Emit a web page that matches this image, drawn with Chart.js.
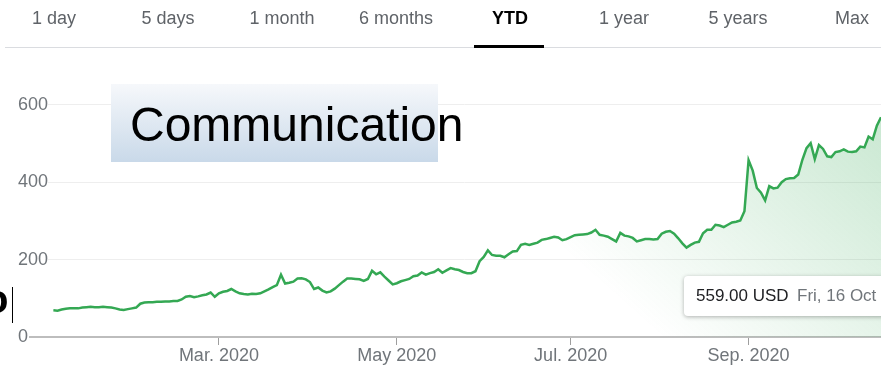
<!DOCTYPE html>
<html>
<head>
<meta charset="utf-8">
<script src="https://cdn.jsdelivr.net/npm/chart.js@4.4.1/dist/chart.umd.min.js"></script>
<style>
  body { margin: 0; background: #fff; font-family: "Liberation Sans", Arial, sans-serif; }
  #wrap { position: relative; width: 881px; height: 366px; overflow: hidden; }
  #chart-box { position: absolute; left: 0; top: 0; width: 881px; height: 366px; }
  .tab { position: absolute; top: 8px; width: 114px; text-align: center; font-size: 18px; color: #5f6368; }
  .tab.active { color: #000; font-weight: bold; }
  #tab-line { position: absolute; left: 5px; right: 0; top: 47px; height: 1px; background: #dadce0; }
  #tab-bar { position: absolute; left: 474px; top: 45px; width: 70px; height: 3px; background: #000; }
  #label-box { position: absolute; left: 111px; top: 84px; width: 327px; height: 78px;
    background: linear-gradient(to bottom, #f6f8fb, #c9d9e9); }
  #label-text { position: absolute; left: 130px; top: 101px; font-size: 48px; line-height: 48px; color: #000; white-space: nowrap; }
  #tip { position: absolute; left: 684px; top: 276px; width: 220px; height: 40px; background: #fff;
    border-radius: 4px; box-shadow: 0 1px 4px rgba(0,0,0,0.3); font-size: 17px; line-height: 40px; white-space: nowrap; }
  #tip .val { position: absolute; left: 12px; color: #202124; }
  #tip .date { position: absolute; left: 113px; color: #70757a; }
  #frag { position: absolute; left: -16px; top: 279px; font-size: 40px; line-height: 40px; font-weight: bold; color: #000; }
  #cursor { position: absolute; left: 12px; top: 287px; width: 1px; height: 36px; background: #000; }
</style>
</head>
<body>
<div id="wrap">
  <div id="chart-box"><canvas id="priceChart"></canvas></div>
  <div id="tabs"></div>
  <div id="tab-line"></div>
  <div id="tab-bar"></div>
  <div id="label-box"></div>
  <div id="label-text">Communication</div>
  <div id="tip"><span class="val">559.00 USD</span><span class="date">Fri, 16 Oct</span></div>
  <div id="frag">o</div>
  <div id="cursor"></div>
</div>
<script>
const tabLabels = ["1 day", "5 days", "1 month", "6 months", "YTD", "1 year", "5 years", "Max"];
const activeTab = "YTD";

// daily closes, 2 Jan - 16 Oct 2020 (trading days)
const closes = [
  69, 68, 71, 73, 74, 74, 74, 76, 77, 78, 77, 77, 78, 77, 76, 74, 71, 70, 72, 74, 76,
  86, 89, 90, 90, 91, 91, 92, 92, 93, 93, 97, 104, 106, 103, 105, 108, 110, 115, 104,
  113, 117, 119, 124, 118, 113, 111, 110, 112, 111, 113, 118, 123, 129, 134, 161, 138, 140, 143, 151, 152, 149,
  142, 124, 128, 120, 115, 118, 125, 134, 143, 151, 151, 150, 149, 145, 150, 171, 162, 167, 156, 146, 136,
  139, 144, 147, 150, 157, 159, 167, 161, 165, 168, 175, 166, 172, 178, 175, 173, 168, 165, 165, 170,
  196, 207, 224, 212, 210, 210, 206, 214, 221, 222, 238, 241, 238, 241, 244, 251, 253, 256, 259, 257, 250, 253,
  258, 263, 264, 265, 266, 270, 277, 264, 262, 259, 253, 247, 269, 262, 260, 256, 247, 250, 253, 253, 252, 253,
  267, 272, 274, 267, 255, 242, 231, 238, 244, 246, 268, 277, 277, 290, 288, 284, 290, 296, 298, 301, 325,
  457, 430, 385, 373, 353, 390, 384, 386, 400, 408, 410, 411, 420, 458, 488, 501, 460, 496, 486, 467, 465,
  478, 480, 485, 479, 478, 480, 492, 490, 518, 511, 546, 568
];

const monthTickIdx = [40, 83, 125, 168];
const monthTickLabels = ["Mar. 2020", "May 2020", "Jul. 2020", "Sep. 2020"];
const yTicks = [0, 200, 400, 600];

const tabsEl = document.getElementById("tabs");
tabLabels.forEach((t, i) => {
  const d = document.createElement("div");
  d.className = "tab" + (t === activeTab ? " active" : "");
  d.style.left = (i * 114 - 3) + "px";
  d.textContent = t;
  tabsEl.appendChild(d);
});

const baselinePlugin = {
  id: "baseline",
  beforeDatasetsDraw(chart) {
    const c = chart.ctx;
    const y = chart.scales.y.getPixelForValue(0);
    c.save();
    c.strokeStyle = "#bdbdbd";
    c.lineWidth = 2;
    c.beginPath();
    c.moveTo(29, y);
    c.lineTo(chart.width, y);
    c.stroke();
    c.restore();
  }
};

const ctx = document.getElementById("priceChart").getContext("2d");

new Chart(ctx, {
  type: "line",
  data: {
    datasets: [{
      data: closes.map((v, i) => ({ x: i, y: v })),
      borderColor: "#34a853",
      borderWidth: 2.5,
      pointRadius: 0,
      tension: 0,
      fill: "origin",
      backgroundColor: (c) => {
        const a = c.chart.chartArea;
        if (!a) return "rgba(0,0,0,0)";
        const g = c.chart.ctx.createLinearGradient(a.right, a.top + 20, a.right - 220, a.bottom);
        g.addColorStop(0, "rgba(52,168,83,0.28)");
        g.addColorStop(1, "rgba(52,168,83,0)");
        return g;
      },
    }],
  },
  options: {
    animation: false,
    responsive: true,
    maintainAspectRatio: false,
    layout: { padding: { top: 70, left: 18, right: 0, bottom: 0 } },
    plugins: { legend: { display: false }, tooltip: { enabled: false } },
    scales: {
      x: {
        type: "linear",
        min: -1.3,
        max: 200,
        border: { display: false },
        grid: { drawOnChartArea: false, drawTicks: true, tickLength: 8, color: "#9e9e9e" },
        afterBuildTicks: (s) => { s.ticks = monthTickIdx.map((v) => ({ value: v })); },
        afterFit: (s) => { s.height = 29; },
        ticks: {
          padding: 0,
          maxRotation: 0,
          autoSkip: false,
          color: "#70757a",
          font: { family: "'Liberation Sans', Arial", size: 18 },
          callback: (v) => monthTickLabels[monthTickIdx.indexOf(v)] || "",
        },
      },
      y: {
        min: 0,
        max: 690,
        border: { display: false },
        grid: {
          drawTicks: false,
          color: (c) => (c.tick && c.tick.value === 0 ? "rgba(0,0,0,0)" : "#eeeeee"),
        },
        afterBuildTicks: (s) => { s.ticks = yTicks.map((v) => ({ value: v })); },
        afterFit: (s) => { s.width = 30; },
        ticks: {
          crossAlign: "far",
          padding: 0,
          color: "#70757a",
          font: { family: "'Liberation Sans', Arial", size: 18 },
        },
      },
    },
  },
  plugins: [baselinePlugin],
});
</script>
</body>
</html>
